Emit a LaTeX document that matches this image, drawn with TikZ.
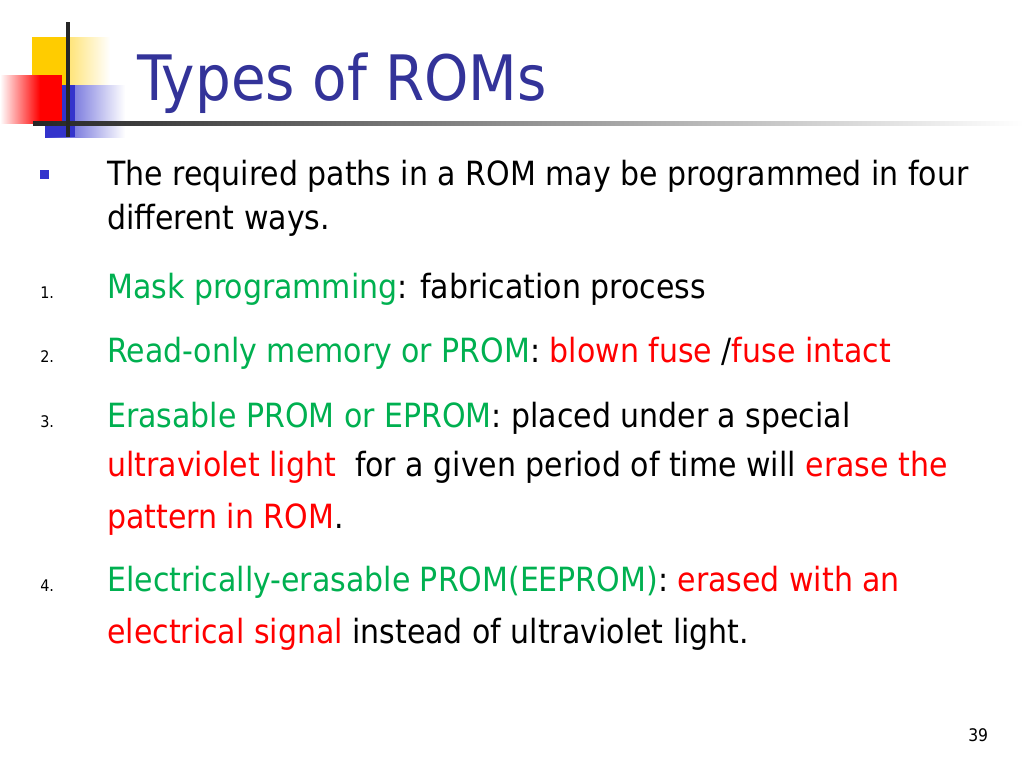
\documentclass[tikz,border=0pt]{standalone}
\usepackage{fontspec}
\setmainfont{DejaVu Sans Condensed}
\usetikzlibrary{positioning}
\definecolor{titleblue}{RGB}{51,51,153}
\definecolor{markgreen}{RGB}{0,176,80}
\definecolor{markred}{RGB}{255,0,0}
\definecolor{logoyellow}{RGB}{255,204,0}
\definecolor{logoblue}{RGB}{51,51,204}
\newcommand{\gr}[1]{\textcolor{markgreen}{#1}}
\newcommand{\rd}[1]{\textcolor{markred}{#1}}
\begin{document}
\begin{tikzpicture}[x=0.75pt,y=-0.75pt,
        line/.style={anchor=base west, inner sep=0pt, font=\fontsize{25}{30}\selectfont},
        num/.style={anchor=base west, inner sep=0pt, font=\fontsize{12}{14}\selectfont},
        title/.style={anchor=base west, inner sep=0pt, text=titleblue, font=\fontsize{47}{56}\selectfont}
    ]
    \useasboundingbox (0,0) rectangle (1024,768);

    % logo
    \shade[left color=logoyellow, right color=white] (32,37) rectangle (110,90);
    \fill[logoyellow] (32,37) rectangle (70,90);
    \shade[left color=logoblue, right color=white] (45,85) rectangle (125,137);
    \fill[logoblue] (45,85) rectangle (75,137);
    \shade[left color=white, right color=markred] (0,75) rectangle (40,123);
    \fill[markred] (40,75) rectangle (62,123);
    \shade[left color=black!85, right color=white] (33,121) rectangle (1024,125);
    \fill[black!85] (66,22) rectangle (70,137);

    % title
    \node[title] (title) at (137,100) {Types of ROMs};

    % bullet
    \fill[logoblue] (40,170) rectangle (49,179);
    \node[line] (l1) at (107,185) {The required paths in a ROM may be programmed in four};
    \node[line] (l2) at (107,229) {different ways.};

    \node[num] (n1) at (40,298) {1.};
    \node[line] (l3) at (107,298) {\gr{Mask programming}: fabrication process};

    \node[num] (n2) at (40,362) {2.};
    \node[line] (l4) at (107,362) {\gr{Read-only memory or PROM}: \rd{blown fuse} /\rd{fuse intact}};

    \node[num] (n3) at (40,427) {3.};
    \node[line] (l5) at (107,427) {\gr{Erasable PROM or EPROM}: placed under a special};
    \node[line] (l6) at (107,476) {\rd{ultraviolet light}\ \ for a given period of time will \rd{erase the}};
    \node[line] (l7) at (107,528) {\rd{pattern in ROM}.};

    \node[num] (n4) at (40,591) {4.};
    \node[line] (l8) at (107,591) {\gr{Electrically-erasable PROM(EEPROM)}: \rd{erased with an}};
    \node[line] (l9) at (107,643) {\rd{electrical signal} instead of ultraviolet light.};

    % page number
    \node[num, font=\fontsize{13}{15}\selectfont] (page) at (968,741) {39};
\end{tikzpicture}
\end{document}
